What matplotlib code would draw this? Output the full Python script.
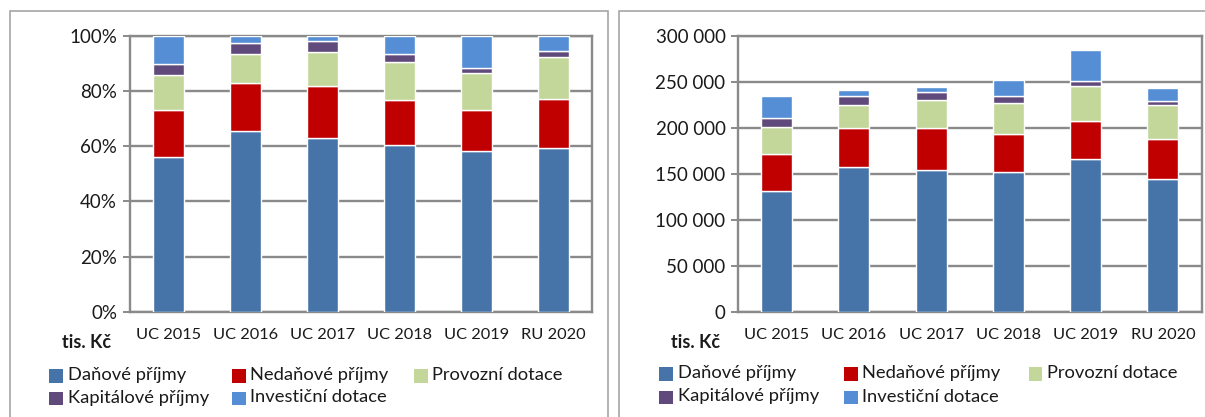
import matplotlib
matplotlib.use("Agg")
import matplotlib.pyplot as plt
from matplotlib.patches import Rectangle
import numpy as np

plt.rcParams['font.family'] = ['Lato', 'DejaVu Sans']

categories = ["UC 2015", "UC 2016", "UC 2017", "UC 2018", "UC 2019", "RU 2020"]
series_names = ["Daňové příjmy", "Nedaňové příjmy", "Provozní dotace",
                "Kapitálové příjmy", "Investiční dotace"]
colors = ["#4674A8", "#C00000", "#C4D79B", "#604A7B", "#558ED5"]

# values in tis. Kč
danove = [131200, 157600, 154000, 152200, 165600, 144200]
nedanove = [40200, 42400, 46000, 40600, 42000, 43500]
provozni = [29700, 24600, 30100, 34400, 38100, 36600]
kapitalove = [9000, 10200, 9000, 7600, 5400, 5000]
investicni = [24300, 6100, 5100, 16600, 33300, 13800]

y_ticks_abs = [0, 50000, 100000, 150000, 200000, 250000, 300000]
y_labels_abs = ["0", "50 000", "100 000", "150 000", "200 000", "250 000", "300 000"]
y_ticks_pct = [0, 20, 40, 60, 80, 100]
y_labels_pct = ["0%", "20%", "40%", "60%", "80%", "100%"]

series = [danove, nedanove, provozni, kapitalove, investicni]

W, H = 1205, 417
fig = plt.figure(figsize=(W / 100, H / 100), dpi=100)

def fx(px):
    return px / W

def fy(py):
    return 1 - py / H

# panel borders
for x0, x1 in [(9.7, 607.8), (618.5, 1215)]:
    fig.patches.append(Rectangle((fx(x0), fy(430)), fx(x1 - x0), (430 - 11) / H,
                                 transform=fig.transFigure, fill=False,
                                 edgecolor="#A6A6A6", linewidth=1.2, zorder=0))

grid_col = "#8A8A8A"
txt_col = "#1a1a1a"

def setup_axes(ax, ticks, labels, ymax):
    ax.set_ylim(0, ymax)
    ax.set_xlim(-0.5, len(categories) - 0.5)
    ax.set_yticks(ticks)
    ax.set_yticklabels(labels, fontsize=13.5, color=txt_col)
    ax.set_xticks(range(len(categories)))
    ax.set_xticklabels(categories, fontsize=11.8, color=txt_col)
    ax.tick_params(axis="x", length=0, pad=12)
    ax.tick_params(axis="y", length=5, width=1.4, color=grid_col, pad=4)
    ax.grid(axis="y", color=grid_col, linewidth=1.7)
    ax.set_axisbelow(True)
    for s in ax.spines.values():
        s.set_color(grid_col)
        s.set_linewidth(1.7)

def draw_bars(ax, data):
    bottom = np.zeros(len(categories))
    x = np.arange(len(categories))
    for vals, col in zip(data, colors):
        vals = np.asarray(vals, dtype=float)
        ax.bar(x, vals, 0.4, bottom=bottom, color=col, edgecolor="white",
               linewidth=1.0, zorder=3)
        bottom += vals

# left: 100 % stacked
totals = np.sum(np.array(series, dtype=float), axis=0)
pct = [np.asarray(s, dtype=float) / totals * 100 for s in series]
axL = fig.add_axes([fx(129.6), fy(311.7), fx(592.2 - 129.6), (311.7 - 35.7) / H])
draw_bars(axL, pct)
setup_axes(axL, y_ticks_pct, y_labels_pct, 100)

# right: absolute
axR = fig.add_axes([fx(738), fy(311.7), fx(1201.5 - 738), (311.7 - 35.7) / H])
draw_bars(axR, series)
setup_axes(axR, y_ticks_abs, y_labels_abs, 300000)

# unit labels
fig.text(fx(111), fy(342), "tis. Kč", ha="right", va="center", fontsize=13,
         fontweight="bold", color=txt_col)
fig.text(fx(720), fy(342), "tis. Kč", ha="right", va="center", fontsize=13,
         fontweight="bold", color=txt_col)

# legends
def legend(sq_x, row_y):
    pos = [(0, 0), (1, 0), (2, 0), (0, 1), (1, 1)]
    for (c, r), name, col in zip(pos, series_names, colors):
        x = sq_x[c]
        y = row_y[r]
        s = 13.5
        fig.patches.append(Rectangle((fx(x), fy(y + s / 2)), fx(s), s / H,
                                     transform=fig.transFigure, facecolor=col,
                                     edgecolor="none"))
        fig.text(fx(x + s + 5), fy(y - 1), name, ha="left", va="center",
                 fontsize=13.2, color=txt_col)

legend([49, 232, 414], [376, 398.5])
legend([659, 844, 1028.6], [374, 397.5])

fig.savefig("out.png", dpi=100)
